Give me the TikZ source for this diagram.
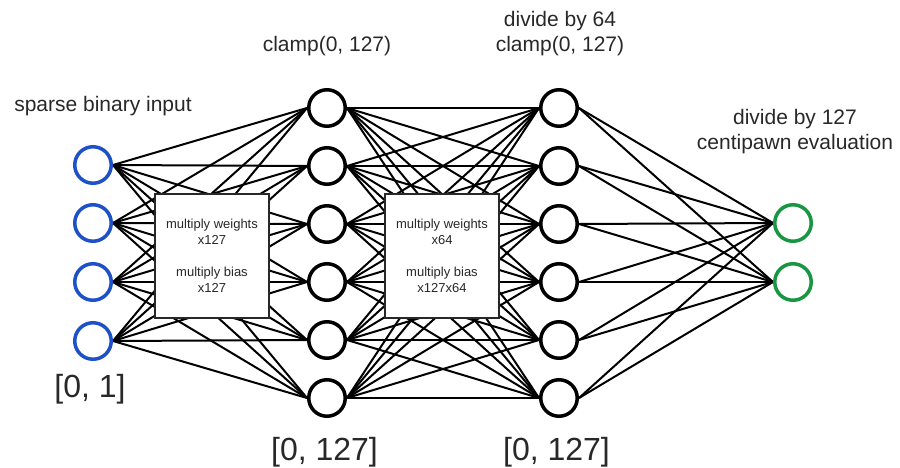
\documentclass[tikz,border=0pt]{standalone}
\usepackage{fontspec}
\setmainfont{Liberation Sans}
\usetikzlibrary{backgrounds}
\definecolor{inblue}{RGB}{30,80,200}
\definecolor{outgreen}{RGB}{25,150,65}
\definecolor{txt}{RGB}{40,40,40}
\begin{document}
\begin{tikzpicture}[x=1pt,y=-1pt,
  neuron/.style={circle,draw,line width=3.5pt,minimum size=36.5pt,inner sep=0pt,fill=white},
  inneuron/.style={neuron,draw=inblue},
  hidneuron/.style={neuron,draw=black},
  outneuron/.style={neuron,draw=outgreen},
  conn/.style={line width=2pt,black},
  scalebox/.style={draw=txt,line width=1.5pt,fill=white,minimum width=114pt,minimum height=124pt,inner sep=0pt,align=center,font=\fontsize{13}{16}\selectfont,text=txt},
  lbl/.style={align=center,font=\fontsize{21}{25}\selectfont,text=txt,inner sep=0pt},
  rangelbl/.style={font=\fontsize{32}{36}\selectfont,text=txt,inner sep=0pt,anchor=base}]
\useasboundingbox (0,0) rectangle (900,468);

% neurons
\foreach \i/\y in {1/165,2/223,3/282,4/341}
  \node[inneuron] (i\i) at (93,\y) {};
\foreach \i/\y in {1/108,2/166,3/224,4/282,5/340,6/398}{
  \node[hidneuron] (h\i) at (327,\y) {};
  \node[hidneuron] (g\i) at (559,\y) {};
}
\node[outneuron] (o1) at (793,223) {};
\node[outneuron] (o2) at (793,282) {};

% connections
\begin{scope}[on background layer]
  \foreach \a in {1,...,4}
    \foreach \b in {1,...,6}
      \draw[conn] (i\a.east) -- (h\b.west);
  \foreach \a in {1,...,6}
    \foreach \b in {1,...,6}
      \draw[conn] (h\a.east) -- (g\b.west);
  \foreach \a in {1,...,6}
    \foreach \b in {1,2}
      \draw[conn] (g\a.east) -- (o\b.west);
\end{scope}

% scaling boxes
\node[scalebox] (b1) at (212,256) {multiply weights\\x127\\[16pt]multiply bias\\x127};
\node[scalebox] (b2) at (442,256) {multiply weights\\x64\\[16pt]multiply bias\\x127x64};

% labels
\node[lbl,anchor=base] (lin) at (103,112) {sparse binary input};
\node[lbl,anchor=base] (lh1) at (327,52) {clamp(0, 127)};
\node[lbl] (lh2) at (560,34) {divide by 64\\clamp(0, 127)};
\node[lbl] (lout) at (795,132) {divide by 127\\centipawn evaluation};

\node[rangelbl] (r0) at (90,397) {[0, 1]};
\node[rangelbl] (r1) at (324.5,460) {[0, 127]};
\node[rangelbl] (r2) at (556.5,460) {[0, 127]};
\end{tikzpicture}
\end{document}
